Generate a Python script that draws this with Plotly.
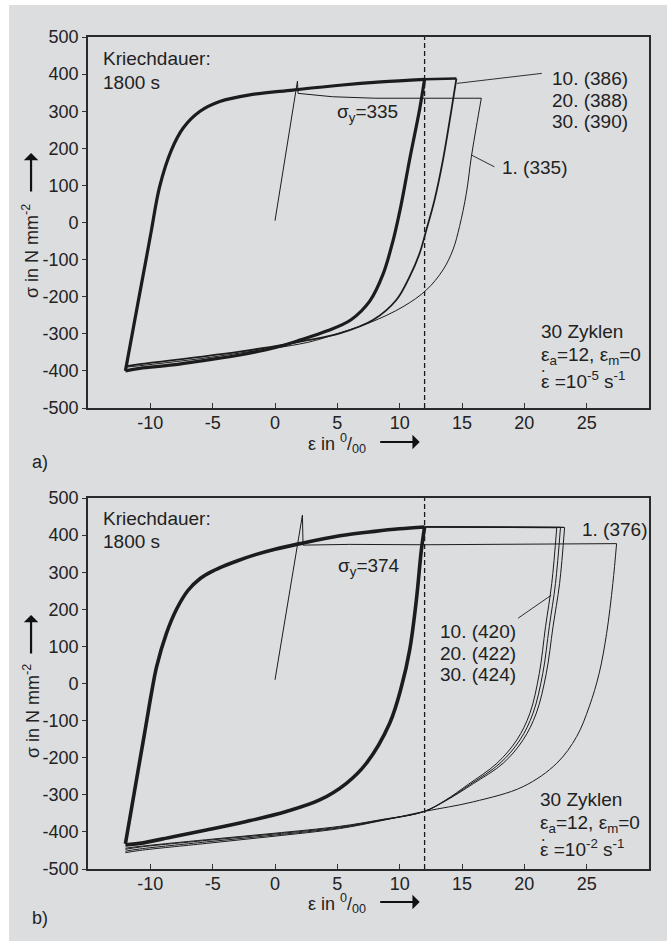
import plotly.graph_objects as go

# ---------------- data (strain in per mille, stress in N/mm^2) ----------------
EPS_A = 12
X_TICKS = [-10, -5, 0, 5, 10, 15, 20, 25]
X_TICKTEXT = ["-10", "-5", "0", "5", "10", "15", "20", "25"]
Y_TICKS = [-500, -400, -300, -200, -100, 0, 100, 200, 300, 400, 500]
Y_TICKTEXT = ["-500", "-400", "-300", "-200", "-100", "0", "100", "200", "300", "400", "500"]

# ---- panel a) strain rate 1e-5 ----
a_load_eps = [-12, -11, -10.3, -9.91, -9.25, -8.31, -7.38, -6.04, -4.43, -2.03, 1.44, 5.19, 8.5, 12]
a_load_sig = [-400, -218, -92, -20, 97, 195, 254, 299, 326, 344, 357, 370, 379, 386]
a_unload_eps = [12, 11.6, 10.8, 10.1, 9.46, 8.66, 7.6, 6.1, 4.2, 2.0, -0.2, -2.8, -5.5, -8.2, -10.85, -12]
a_unload_sig = [386, 305, 170, 45, -50, -140, -212, -262, -292, -317, -339, -357, -371, -384, -393, -400]
a_hold_eps = [12, 14.55]
a_hold_sig = [386, 388]
a_creep_eps = [14.55, 14.15, 13.47, 12.8, 12.14, 11.6, 10.8, 9.73, 7.86, 5.19, 2.5, 0.64, -2.83, -6, -10.85, -12]
a_creep_sig = [388, 303, 168, 61, -20, -83, -146, -209, -263, -299, -318, -330, -348, -362, -382, -388]
a_c1_load_eps = [0, 1.8, 1.85, 4.6, 8, 12, 16.55]
a_c1_load_sig = [5, 381, 348, 339, 335, 335, 335]
a_c1_unload_eps = [16.55, 16.15, 15.75, 15.35, 14.8, 14.27, 13.47, 12.14, 10.27, 7.6, 4.4, 2.5, -2.83, -6, -10.85, -12]
a_c1_unload_sig = [335, 258, 177, 79, -11, -74, -128, -182, -227, -270, -306, -324, -352, -367, -386, -390]
a_lead1_eps = [14.6, 21.4]
a_lead1_sig = [375, 402]
a_lead2_eps = [15.75, 17.6]
a_lead2_sig = [182, 150]

# ---- panel b) strain rate 1e-2 ----
b_load_eps = [-12, -11, -10.4, -9.91, -9.5, -8.71, -7.9, -7.0, -6.0, -5.0, -4.0, -3.0, -1.5, 0, 2, 5.2, 8, 10, 12]
b_load_sig = [-432, -238, -122, -26, 45, 135, 200, 250, 283, 303, 318, 331, 348, 362, 377, 398, 410, 417, 422]
b_unload_eps = [12, 11.74, 11.34, 10.8, 10.14, 9.2, 7.33, 5.73, 3.58, 0.91, -2.3, -5.5, -8.17, -10.85, -12]
b_unload_sig = [422, 360, 225, 90, -9, -107, -215, -269, -314, -345, -372, -395, -413, -431, -435]
b_hold10_eps = [12, 22.6]
b_hold10_sig = [422, 420]
b_hold20_eps = [12, 22.9]
b_hold20_sig = [422, 421]
b_hold30_eps = [12, 23.2]
b_hold30_sig = [422, 421]
b_creep10_eps = [22.6, 22.2, 21.7, 21.2, 20.45, 19.4, 17.8, 15.5, 13.6, 11.95, 8.5, 5.19, -0.16, -5.5, -10.85, -12]
b_creep20_eps = [22.9, 22.5, 22.0, 21.48, 20.7, 19.65, 18.05, 15.7, 13.7, 11.95, 8.5, 5.19, -0.16, -5.5, -10.85, -12]
b_creep30_eps = [23.23, 22.83, 22.3, 21.76, 20.96, 19.9, 18.3, 15.9, 13.8, 11.95, 8.5, 5.19, -0.16, -5.5, -10.85, -12]
b_creep10_sig = [420, 270, 153, 27, -80, -152, -215, -272, -316, -345, -367, -385, -404, -421, -439, -444]
b_creep20_sig = [421, 270, 153, 27, -80, -152, -215, -271, -315, -345, -368, -387, -406, -423, -441, -447]
b_creep30_sig = [421, 270, 153, 27, -80, -152, -215, -270, -314, -345, -369, -389, -409, -427, -446, -452]
b_c1_load_eps = [0, 2.2, 2.25, 6, 12, 20, 27.4]
b_c1_load_sig = [10, 454, 373, 375, 374, 376, 377]
b_c1_unload_eps = [27.4, 27.1, 26.6, 26.0, 25.2, 24.2, 22.6, 19.9, 15.9, 11.95, 8.5, 5.19, -0.16, -5.5, -10.85, -12]
b_c1_unload_sig = [377, 270, 135, 27, -63, -143, -215, -278, -319, -345, -370, -391, -412, -431, -450, -456]
b_lead_eps = [22.16, 19.5]
b_lead_sig = [238, 176]

# ---------------- figure ----------------
FONT = "Liberation Sans, Arial, sans-serif"
INK = "#1c1c1c"
BG = "#dcdddf"

fig = go.Figure()


def add_line(x, y, xa, ya, width, shape="spline", dash=None):
    fig.add_trace(go.Scatter(
        x=x, y=y, xaxis=xa, yaxis=ya, mode="lines",
        line=dict(color=INK, width=width, shape=shape, smoothing=1.0 if shape == "spline" else None,
                  dash=dash),
        hoverinfo="skip", showlegend=False))


# panel a
add_line(a_load_eps, a_load_sig, "x", "y", 3.2)
add_line(a_unload_eps, a_unload_sig, "x", "y", 3.2)
add_line(a_hold_eps, a_hold_sig, "x", "y", 2.6, shape="linear")
add_line(a_creep_eps, a_creep_sig, "x", "y", 1.8)
add_line(a_c1_load_eps, a_c1_load_sig, "x", "y", 1.0, shape="linear")
add_line(a_c1_unload_eps, a_c1_unload_sig, "x", "y", 1.0)
add_line(a_lead1_eps, a_lead1_sig, "x", "y", 0.9, shape="linear")
add_line(a_lead2_eps, a_lead2_sig, "x", "y", 0.9, shape="linear")
add_line([EPS_A, EPS_A], [Y_TICKS[0], Y_TICKS[-1]], "x", "y", 1.3, shape="linear", dash="5px,3px")

# panel b
add_line(b_load_eps, b_load_sig, "x2", "y2", 3.6)
add_line(b_unload_eps, b_unload_sig, "x2", "y2", 3.6)
for he, hs in [(b_hold10_eps, b_hold10_sig), (b_hold20_eps, b_hold20_sig), (b_hold30_eps, b_hold30_sig)]:
    add_line(he, hs, "x2", "y2", 1.2, shape="linear")
for ce, cs in [(b_creep10_eps, b_creep10_sig), (b_creep20_eps, b_creep20_sig), (b_creep30_eps, b_creep30_sig)]:
    add_line(ce, cs, "x2", "y2", 1.0)
add_line(b_c1_load_eps, b_c1_load_sig, "x2", "y2", 1.0, shape="linear")
add_line(b_c1_unload_eps, b_c1_unload_sig, "x2", "y2", 1.0)
add_line(b_lead_eps, b_lead_sig, "x2", "y2", 0.9, shape="linear")
add_line([EPS_A, EPS_A], [Y_TICKS[0], Y_TICKS[-1]], "x2", "y2", 1.3, shape="linear", dash="5px,3px")

# ---------------- layout ----------------
ML, MR, MT, MB = 88, 17.5, 37, 72
W, H = 667, 941
PW = W - ML - MR
PH = H - MT - MB


def px2paper_x(px):
    return (px - ML) / PW


def px2paper_y(py):
    return (H - MB - py) / PH


dom_a = [px2paper_y(408), 1.0]
dom_b = [0.0, px2paper_y(498)]

xax = dict(range=[-15, 30], tickvals=X_TICKS, ticktext=X_TICKTEXT, ticks="inside", ticklen=5,
           tickwidth=1.2, tickcolor="#333", showline=True, linecolor="#2a2a2a", linewidth=1.8, mirror=True,
           showgrid=False, zeroline=False, ticklabelstandoff=-3,
           tickfont=dict(family=FONT, size=18, color="#222"))
yax = dict(range=[-500, 500], tickvals=Y_TICKS, ticktext=Y_TICKTEXT, ticks="outside", ticklen=4,
           tickwidth=1.2, tickcolor="#333", showline=True, linecolor="#2a2a2a", linewidth=1.8, mirror=True,
           showgrid=False, zeroline=False, tickfont=dict(family=FONT, size=18, color="#222"))

fig.update_layout(
    width=W, height=H, autosize=False,
    margin=dict(l=ML, r=MR, t=MT, b=MB, pad=0),
    paper_bgcolor="white", plot_bgcolor=BG,
    font=dict(family=FONT, size=18, color="#222"),
    xaxis=dict(xax, anchor="y", domain=[0, 1]),
    yaxis=dict(yax, anchor="x", domain=dom_a),
    xaxis2=dict(xax, anchor="y2", domain=[0, 1]),
    yaxis2=dict(yax, anchor="x2", domain=dom_b),
    shapes=[dict(type="rect", xref="paper", yref="paper", layer="below",
                 x0=px2paper_x(9), x1=px2paper_x(668), y0=px2paper_y(942), y1=px2paper_y(5),
                 fillcolor=BG, line=dict(width=0))],
)

ann = []
TS = 19


def txt(x, y, s, xr, yr, xanchor="left", yanchor="middle", size=TS, angle=0):
    ann.append(dict(x=x, y=y, xref=xr, yref=yr, text=s, showarrow=False, xanchor=xanchor,
                    yanchor=yanchor, textangle=angle, font=dict(family=FONT, size=size, color="#222")))


# panel a texts (data coordinates)
txt(-13.98, 443, "Kriechdauer:", "x", "y")
txt(-13.98, 378, "1800 s", "x", "y")
txt(22.03, 389, "10. (386)", "x", "y")
txt(22.03, 330, "20. (388)", "x", "y")
txt(22.03, 272, "30. (390)", "x", "y")
txt(4.79, 295, "σ<sub>y</sub>=335", "x", "y")
txt(18.02, 147, "1. (335)", "x", "y")
txt(21.2, -294, "30 Zyklen", "x", "y")
txt(21.2, -360, "ε<sub>a</sub>=12, ε<sub>m</sub>=0", "x", "y")
txt(21.2, -424, "ε =10<sup>-5</sup> s<sup>-1</sup>", "x", "y")

# panel b texts
txt(-13.98, 445, "Kriechdauer:", "x2", "y2")
txt(-13.98, 382, "1800 s", "x2", "y2")
txt(24.43, 414, "1. (376)", "x2", "y2")
txt(4.92, 315, "σ<sub>y</sub>=374", "x2", "y2")
txt(13.05, 140, "10. (420)", "x2", "y2")
txt(13.05, 82, "20. (422)", "x2", "y2")
txt(13.05, 23, "30. (424)", "x2", "y2")
txt(21.06, -314, "30 Zyklen", "x2", "y2")
txt(21.06, -379, "ε<sub>a</sub>=12, ε<sub>m</sub>=0", "x2", "y2")
txt(21.06, -443, "ε =10<sup>-2</sup> s<sup>-1</sup>", "x2", "y2")

# dots above the strain-rate epsilons
txt(px2paper_x(544), px2paper_y(370), "•", "paper", "paper", xanchor="center", size=7)
txt(px2paper_x(544), px2paper_y(839), "•", "paper", "paper", xanchor="center", size=7)

# axis titles, arrows and panel letters (paper coordinates)
for yc, ya_head, xt_y, xa_y, lab, lab_y in [(251, 153, 443, 442, "a)", 462), (711, 615, 903, 902, "b)", 918)]:
    txt(px2paper_x(31), px2paper_y(yc), "σ in N mm<sup>-2</sup>", "paper", "paper",
        xanchor="center", yanchor="middle", angle=-90, size=18)
    ann.append(dict(x=px2paper_x(31), y=px2paper_y(ya_head), xref="paper", yref="paper",
                    ax=0, ay=40, showarrow=True, arrowhead=1, arrowsize=1.1, arrowwidth=2.2,
                    arrowcolor="#111", text=""))
    txt(px2paper_x(306), px2paper_y(xt_y), "ε in <sup>0</sup>/<sub>00</sub>", "paper", "paper", size=18)
    ann.append(dict(x=px2paper_x(420), y=px2paper_y(xa_y), xref="paper", yref="paper",
                    ax=-41, ay=0, showarrow=True, arrowhead=1, arrowsize=1.1, arrowwidth=2.2,
                    arrowcolor="#111", text=""))
    txt(px2paper_x(40), px2paper_y(lab_y), lab, "paper", "paper", xanchor="center", size=18)

fig.update_layout(annotations=ann)
fig.write_html("out.html")
